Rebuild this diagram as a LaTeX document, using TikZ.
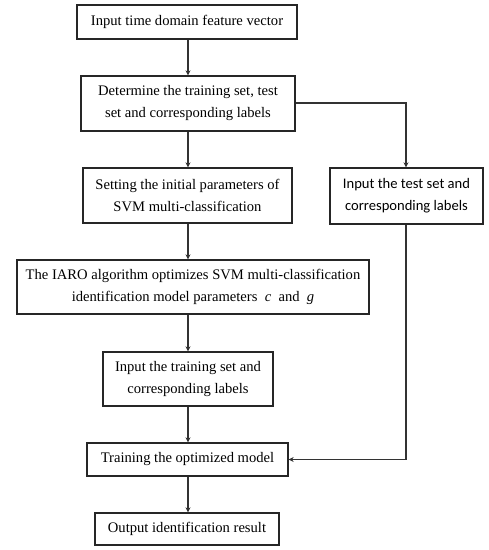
\documentclass[tikz,border=0pt]{standalone}
\usepackage{fontspec}
\setmainfont{Liberation Serif}
\newfontfamily\calib{Carlito}
\usetikzlibrary{arrows.meta,calc}
\begin{document}
\begin{tikzpicture}[x=1pt,y=1pt,
  box/.style={draw=black!85,line width=1.3pt,align=center,inner sep=0pt,font=\fontsize{14.6}{22}\selectfont},
  arr/.style={draw=black!80,line width=1.4pt,-{Stealth[length=5pt,width=5pt]}}]
\useasboundingbox (0,0) rectangle (489,-550);
\node[box,minimum width=220,minimum height=34] (b1) at (187,-22) {Input time domain feature vector};
\node[box,minimum width=214,minimum height=55] (b2) at (188,-103.5) {Determine the training set, test\\set and corresponding labels};
\node[box,minimum width=209,minimum height=55] (b3) at (187.5,-195.5) {Setting the initial parameters of\\SVM multi-classification};
\node[box,minimum width=153,minimum height=56,font=\calib\fontsize{14.6}{22}\selectfont] (br) at (406.5,-196) {Input the test set and\\corresponding labels};
\node[box,minimum width=352,minimum height=54] (b4) at (193,-287) {The IARO algorithm optimizes SVM multi-classification\\identification model parameters \ \textit{c} \ and \ \textit{g}};
\node[box,minimum width=170,minimum height=54] (b5) at (188,-379) {Input the training set and\\corresponding labels};
\node[box,minimum width=201,minimum height=33] (b6) at (187.5,-459.5) {Training the optimized model};
\node[box,minimum width=184,minimum height=32] (b7) at (187,-529) {Output identification result};
\coordinate (cx) at (188,0);
\coordinate (rx) at (406,0);
\draw[arr] (cx |- b1.south) -- (cx |- b2.north);
\draw[arr] (cx |- b2.south) -- (cx |- b3.north);
\draw[arr] (cx |- b3.south) -- (cx |- b4.north);
\draw[arr] (cx |- b4.south) -- (cx |- b5.north);
\draw[arr] (cx |- b5.south) -- (cx |- b6.north);
\draw[arr] (cx |- b6.south) -- (cx |- b7.north);
\draw[arr] (b2.east |- 0,-103) -| (rx |- br.north);
\draw[arr] (rx |- br.south) |- (b6.east);
\end{tikzpicture}
\end{document}
